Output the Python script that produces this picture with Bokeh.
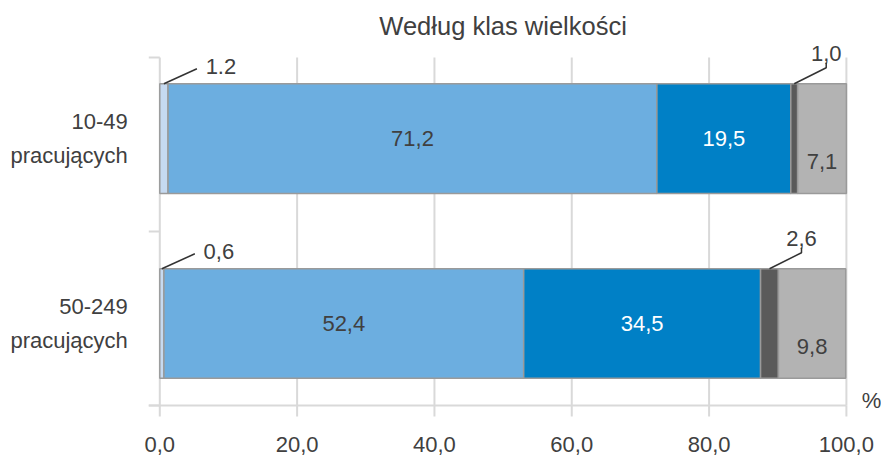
import numpy as np
from bokeh.plotting import figure
from bokeh.models import Range1d
from bokeh.core.properties import value
from bokeh.embed import file_html
from bokeh.resources import INLINE

# ---------------- data ----------------
title_text = "Według klas wielkości"
categories = ["10-49\npracujących", "50-249\npracujących"]
seg_a = [1.2, 0.6]
seg_b = [71.2, 52.4]
seg_c = [19.5, 34.5]
seg_d = [1.0, 2.6]
seg_e = [7.1, 9.8]
labels_a = ["1.2", "0,6"]
labels_b = ["71,2", "52,4"]
labels_c = ["19,5", "34,5"]
labels_d = ["1,0", "2,6"]
labels_e = ["7,1", "9,8"]
x_ticks = [0, 20, 40, 60, 80, 100]
x_tick_labels = ["0,0", "20,0", "40,0", "60,0", "80,0", "100,0"]
unit_label = "%"

# ---------------- layout / style ----------------
W, H = 881, 456
X0_PX, Y0_PX = 159.3, 405.0   # pixel position of the data origin
PX_X = 6.866      # pixels per x unit
PX_Y = 174.0      # pixels per category band
FONT = value("Liberation Sans")
TXT = "#404040"
GRID = "#d9d9d9"
colors = ["#c6daf1", "#6caee0", "#0080c6", "#5a5a5a", "#b3b3b3"]
text_colors = [TXT, TXT, "#ffffff", TXT, TXT]
bar_centers = [1.534, 0.471]   # band 1 (top) and band 0 (bottom)
bar_h = 0.63

p = figure(width=W, height=H, output_backend="svg", toolbar_location=None,
           x_range=Range1d(-X0_PX / PX_X, (W - X0_PX) / PX_X),
           y_range=Range1d(-(H - Y0_PX) / PX_Y, Y0_PX / PX_Y),
           x_axis_location=None, y_axis_location=None,
           min_border=0, title=None)
p.outline_line_color = None
p.grid.visible = False
p.background_fill_color = "white"
p.border_fill_color = "white"

# grid lines
p.segment(x0=x_ticks[1:], y0=0, x1=x_ticks[1:], y1=2, line_color=GRID, line_width=2)
# y axis line and ticks
p.segment(x0=[0], y0=[0], x1=[0], y1=[2], line_color=GRID, line_width=2)
p.segment(x0=-11 / PX_X, y0=[0, 1, 2], x1=0, y1=[0, 1, 2], line_color=GRID, line_width=2)
# x axis line and ticks
p.segment(x0=[-11 / PX_X], y0=[0], x1=[100], y1=[0], line_color=GRID, line_width=2)
p.segment(x0=x_ticks, y0=0, x1=x_ticks, y1=-11 / PX_Y, line_color=GRID, line_width=2)

# stacked bars
series = [seg_a, seg_b, seg_c, seg_d, seg_e]
series_labels = [labels_a, labels_b, labels_c, labels_d, labels_e]
arr = np.array(series, dtype=float)
rights = np.cumsum(arr, axis=0)
lefts = rights - arr
for i in range(len(series)):
    p.hbar(y=bar_centers, left=lefts[i], right=rights[i], height=bar_h,
           fill_color=colors[i], line_color="#9a9a9a", line_width=1.5)

# inside labels
for i in (1, 2, 4):
    dy = -23 / PX_Y if i == 4 else 0
    xs = (lefts[i] + rights[i]) / 2
    ys = [c + dy for c in bar_centers]
    p.text(x=xs, y=ys, text=series_labels[i], text_align="center",
           text_baseline="middle", text_font=FONT, text_font_size=value("22px"),
           text_color=text_colors[i])

# outside labels with leader lines
tops = [c + bar_h / 2 for c in bar_centers]
lx, ly = [], []
for r in range(len(categories)):
    # first (tiny) segment: diagonal leader, label to the right
    cx = (lefts[0][r] + rights[0][r]) / 2
    lx.append([cx, cx + 33 / PX_X])
    ly.append([tops[r], tops[r] + 15 / PX_Y])
    p.text(x=[cx + 57 / PX_X], y=[tops[r] + 17 / PX_Y], text=[labels_a[r]],
           text_align="center", text_baseline="middle", text_font=FONT,
           text_font_size=value("22px"), text_color=TXT)
    # fourth (tiny) segment: diagonal + vertical leader, label above
    cx = (lefts[3][r] + rights[3][r]) / 2
    lx.append([cx, cx + 32 / PX_X, cx + 32 / PX_X])
    ly.append([tops[r], tops[r] + 16 / PX_Y, tops[r] + 21 / PX_Y])
    p.text(x=[cx + 32 / PX_X], y=[tops[r] + 30 / PX_Y], text=[labels_d[r]],
           text_align="center", text_baseline="middle", text_font=FONT,
           text_font_size=value("22px"), text_color=TXT)
p.multi_line(xs=lx, ys=ly, line_color="#333333", line_width=1.5)

# category labels
p.text(x=-32 / PX_X, y=bar_centers, text=categories, text_align="right",
       text_baseline="middle", text_font=FONT, text_font_size=value("22px"),
       text_line_height=1.36, text_color=TXT)

# x tick labels
p.text(x=x_ticks, y=-39 / PX_Y, text=x_tick_labels, text_align="center",
       text_baseline="middle", text_font=FONT, text_font_size=value("22px"),
       text_color=TXT)
# unit
p.text(x=[(871 - X0_PX) / PX_X], y=[5 / PX_Y], text=[unit_label], text_align="center",
       text_baseline="middle", text_font=FONT, text_font_size=value("22px"),
       text_color=TXT)

# title
p.text(x=[50], y=[(Y0_PX - 25) / PX_Y], text=[title_text], text_align="center",
       text_baseline="middle", text_font=FONT, text_font_size=value("25.5px"),
       text_color=TXT)

open("out.html", "w").write(file_html(p, INLINE))
